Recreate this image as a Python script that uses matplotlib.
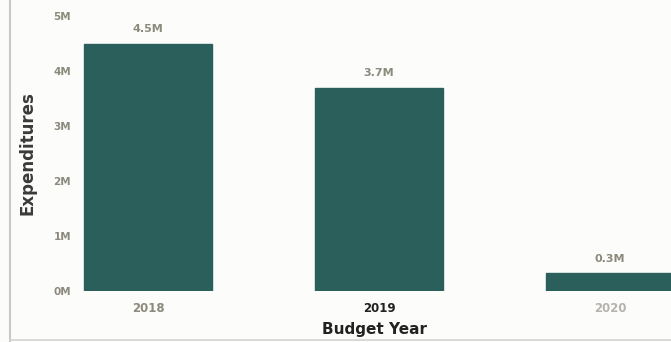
import matplotlib
matplotlib.use("Agg")
import matplotlib.pyplot as plt
from matplotlib.lines import Line2D

years = ["2018", "2019", "2020"]
expenditures = [4.5e6, 3.7e6, 0.32e6]
value_labels = ["4.5M", "3.7M", "0.3M"]
yticks = [0, 1e6, 2e6, 3e6, 4e6, 5e6]
ytick_labels = ["0M", "1M", "2M", "3M", "4M", "5M"]

W, H = 671, 342
fig = plt.figure(figsize=(W / 100, H / 100), dpi=100, facecolor="#fcfcfa")

# axes placed in pixel terms: 0M at y=291, 5M at y=16, bars 231px apart
left_px, right_px = 78, 671
x0 = 148
step = 231
ax = fig.add_axes([left_px / W, (H - 291) / H, (right_px - left_px) / W, (291 - 16) / H])
ax.set_facecolor("#fcfcfa")

xs = range(len(years))
ax.bar(xs, expenditures, width=0.55, color="#2b5f5c", edgecolor="#2b5f5c")
ax.set_xlim((left_px - x0) / step, (right_px - x0) / step)
ax.set_ylim(0, 5e6)

for x, v, lab in zip(xs, expenditures, value_labels):
    ax.text(x, v + 0.17e6, lab, ha="center", va="bottom", fontsize=8,
            fontweight="bold", color="#8c8a7c")

ax.set_yticks(yticks)
ax.set_yticklabels(ytick_labels, fontsize=7.5, fontweight="bold", color="#8c8a7c")
ax.set_xticks(list(xs))
ax.set_xticklabels(years, fontsize=8.5, fontweight="bold")
tick_colors = ["#8c8a7c", "#222222", "#b5b3ad"]
for t, c in zip(ax.get_xticklabels(), tick_colors):
    t.set_color(c)
ax.tick_params(axis="x", length=0, pad=8)
ax.tick_params(axis="y", length=0, pad=5)
for s in ax.spines.values():
    s.set_visible(False)

ax.set_ylabel("Expenditures", fontsize=12, fontweight="bold", color="#3a3a3a")
ax.yaxis.set_label_coords((37 - left_px) / (right_px - left_px), 0.5)
ax.set_xlabel("Budget Year", fontsize=11, fontweight="bold", color="#222222", labelpad=5)

# frame lines at left and bottom of the picture
fig.add_artist(Line2D([10 / W, 10 / W], [0, 1], color="#c8c8c4", lw=1.5))
fig.add_artist(Line2D([10 / W, 1], [2 / H, 2 / H], color="#d4d4d0", lw=1.2))

fig.savefig("out.png", dpi=100, facecolor=fig.get_facecolor())
